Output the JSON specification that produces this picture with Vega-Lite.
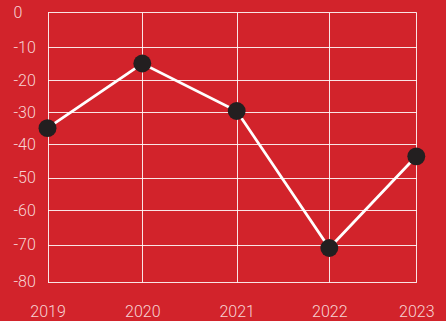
{
  "$schema": "https://vega.github.io/schema/vega-lite/v6.json",
  "autosize": "none",
  "width": 370,
  "height": 270,
  "padding": {"left": 47, "top": 12, "right": 29, "bottom": 39},
  "background": "#d2232b",
  "config": {
    "view": {"stroke": null},
    "font": "Roboto",
    "axis": {"domain": false, "ticks": false, "gridColor": "#ffffff", "gridOpacity": 0.88, "gridWidth": 1, "labelColor": "#f7d4d4", "labelFont": "Roboto", "labelFontSize": 16, "labelFontWeight": 300, "title": null}
  },
  "data": {
    "values": [
      {"year": 2019, "value": -35},
      {"year": 2020, "value": -15},
      {"year": 2021, "value": -29.7},
      {"year": 2022, "value": -70.9},
      {"year": 2023, "value": -43.6}
    ]
  },
  "encoding": {
    "x": {"field": "year", "type": "quantitative", "scale": {"domain": [2019, 2020, 2021, 2022, 2023], "range": [0.5, 95.3, 189.7, 282.3, 369.3]}, "axis": {"values": [2019, 2020, 2021, 2022, 2023], "format": "d", "labelAngle": 0, "labelPadding": 21, "labelFlush": false, "grid": true}},
    "y": {"field": "value", "type": "quantitative", "scale": {"domain": [0, -10, -20, -30, -40, -50, -60, -70, -80], "range": [0, 35, 68, 100, 132.3, 165.7, 198.3, 232.7, 269.7]}, "axis": {"values": [0, -10, -20, -30, -40, -50, -60, -70, -80], "labelAlign": "left", "labelPadding": 34, "labelDy": 2, "labelFlush": false, "labelExpr": "datum.value == 0 ? '0' : '-' + abs(datum.value)"}}
  },
  "layer": [
    {"mark": {"type": "line", "color": "#ffffff", "strokeWidth": 2.8}},
    {"mark": {"type": "circle", "color": "#231f20", "opacity": 1, "size": 320}}
  ]
}
